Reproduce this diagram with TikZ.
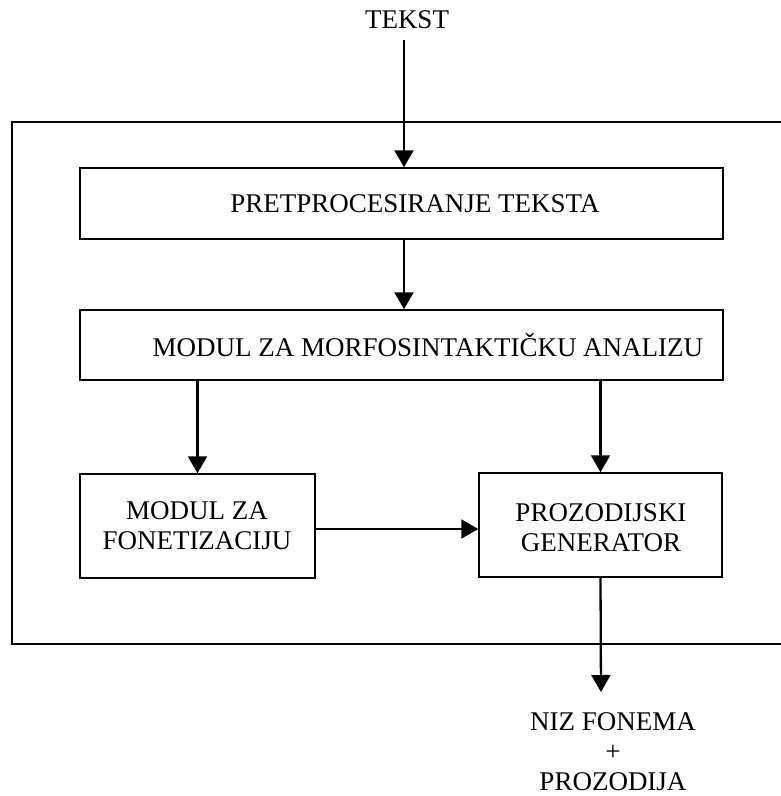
\documentclass[tikz,border=0pt]{standalone}
\usepackage{fontspec}
\setmainfont{Liberation Serif}
\usetikzlibrary{arrows.meta}
\begin{document}
\begin{tikzpicture}[x=1pt,y=-1pt,
  box/.style={draw,line width=1.5pt,inner sep=0pt},
  arr/.style={line width=2.3pt,-{Triangle[length=17pt,width=19pt]}},
  txt/.style={font=\fontsize{27}{30}\selectfont,inner sep=0pt,align=center}]
\useasboundingbox (0,0) rectangle (781,796);
\begin{scope}
\clip (0,0) rectangle (781,796);
\draw[line width=1.5pt] (800,122) -- (12,122) -- (12,644) -- (800,644);
\end{scope}
\node[txt] (tekst) at (407,20) {TEKST};
\coordinate (tstart) at (404,40);
\node[box,minimum width=643pt,minimum height=71pt] (b1) at (401.5,203.5) {};
\node[txt] at (415,204) {PRETPROCESIRANJE TEKSTA};
\node[box,minimum width=643pt,minimum height=70pt] (b2) at (401.5,345) {};
\node[txt] at (428,345) {MODUL ZA MORFOSINTAKTIČKU ANALIZU};
\node[box,minimum width=235pt,minimum height=104pt] (b3) at (197.5,526) {};
\node[txt] at (197,526) {MODUL ZA\\FONETIZACIJU};
\node[box,minimum width=243pt,minimum height=104pt] (b4) at (600.5,525) {};
\node[txt] at (601,528) {PROZODIJSKI\\GENERATOR};
\coordinate (out) at (601,692);
\node[txt,align=center] (niz) at (613,752) {NIZ FONEMA\\+\\PROZODIJA};
\draw[arr] (tstart) -- (b1.north -| tstart);
\draw[arr] (b1.south -| tstart) -- (b2.north -| tstart);
\draw[arr] (b2.south -| b3.north) -- (b3.north);
\draw[arr] (b2.south -| b4.north) -- (b4.north);
\draw[arr] (b3.east |- 0,529) -- (b4.west |- 0,529);
\draw[arr] (b4.south) -- (out);
\end{tikzpicture}
\end{document}
